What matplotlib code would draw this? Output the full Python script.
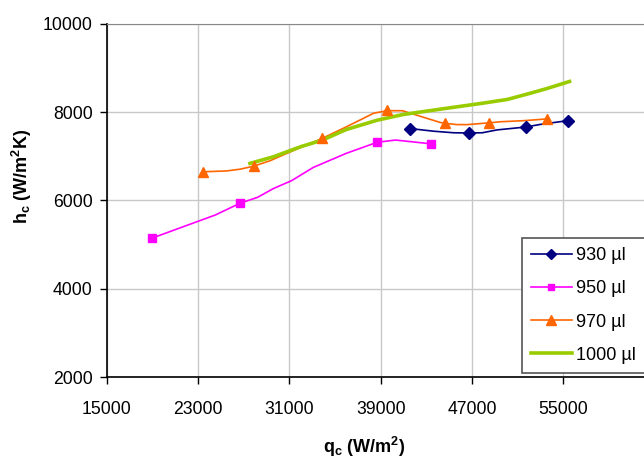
import numpy as np
import matplotlib
matplotlib.use("Agg")
import matplotlib.pyplot as plt
from matplotlib.lines import Line2D

plt.rcParams.update({
    "font.family": ["Liberation Sans", "DejaVu Sans"],
    "mathtext.fontset": "custom",
    "mathtext.rm": "Liberation Sans",
    "mathtext.bf": "Liberation Sans:bold",
    "font.size": 12.7,
})

# 930 ul: line and markers
q930_line = [41600, 43650, 45400, 46700, 47900, 49200, 51700, 53000, 55400]
h930_line = [7630, 7570, 7535, 7530, 7535, 7600, 7665, 7725, 7810]
q930_mark = [41600, 46700, 51700, 55400]
h930_mark = [7630, 7530, 7665, 7810]

# 950 ul
q950_line = [19000, 24500, 26700, 28200, 29600, 31200, 33100, 36000, 38700,
             40300, 43400]
h950_line = [5150, 5670, 5940, 6070, 6270, 6450, 6750, 7070, 7320, 7370, 7285]
q950_mark = [19000, 26700, 38700, 43400]
h950_mark = [5150, 5940, 7320, 7285]

# 970 ul
q970_line = [23400, 25500, 26700, 27900, 29300, 30800, 33900, 36000, 38400,
             39600, 40900, 44200, 44600, 45700, 46600, 48500, 49500, 51600,
             53600]
h970_line = [6650, 6670, 6710, 6780, 6900, 7070, 7410, 7670, 7980, 8035,
             8035, 7770, 7750, 7720, 7720, 7760, 7785, 7810, 7850]
q970_mark = [23400, 27900, 33900, 39600, 44600, 48500, 53600]
h970_mark = [6650, 6780, 7410, 8040, 7750, 7760, 7850]

# 1000 ul
q1000 = [27400, 29600, 32000, 33900, 36000, 38700, 41000, 44500, 47800,
         50100, 52100, 53600, 55700]
h1000 = [6830, 6990, 7220, 7370, 7610, 7820, 7950, 8080, 8200, 8290, 8430,
         8540, 8710]

xticks = [15000, 23000, 31000, 39000, 47000, 55000]
yticks = [2000, 4000, 6000, 8000, 10000]
labels = ["930 µl", "950 µl", "970 µl", "1000 µl"]

fig = plt.figure(figsize=(6.44, 4.61), dpi=100)
W, H = 644, 461
x0, x1, y0, y1 = 106.7, 654.6, 377, 24
ax = fig.add_axes([x0 / W, (H - y0) / H, (x1 - x0) / W, (y0 - y1) / H])

ax.plot(q930_line, h930_line, color="#000080", lw=1.2)
ax.plot(q950_line, h950_line, color="#ff00ff", lw=1.2)
ax.plot(q970_line, h970_line, color="#ff6600", lw=1.2)
ax.plot(q1000, h1000, color="#99cc00", lw=2.6, solid_capstyle="butt")
ax.plot(q930_mark, h930_mark, "D", color="#000080", ms=6.3, ls="none")
ax.plot(q950_mark, h950_mark, "s", color="#ff00ff", ms=6, ls="none")
ax.plot(q970_mark, h970_mark, "^", color="#ff6600", ms=7.5, ls="none")

ax.set_xlim(15000, 63000)
ax.set_ylim(2000, 10000)
ax.set_xticks(xticks)
ax.set_yticks(yticks)
ax.grid(True, color="#c8c8c8", lw=1)
ax.set_axisbelow(True)
ax.tick_params(axis="x", direction="out", length=5, pad=12, width=1)
ax.tick_params(axis="y", direction="out", length=5, pad=5, width=1)
ax.spines["right"].set_visible(False)
ax.spines["top"].set_color("#888888")
ax.spines["left"].set_linewidth(1.2)
ax.spines["bottom"].set_linewidth(1.2)

handles = [
    Line2D([], [], color="#000080", lw=1.2, marker="D", ms=5),
    Line2D([], [], color="#ff00ff", lw=1.2, marker="s", ms=5),
    Line2D([], [], color="#ff6600", lw=1.2, marker="^", ms=6.5),
    Line2D([], [], color="#99cc00", lw=2.6),
]
leg = fig.legend(handles, labels, loc="upper left",
                 bbox_to_anchor=(521.7 / W, 1 - 238 / H), fontsize=13,
                 frameon=True, fancybox=False, edgecolor="#555555",
                 handlelength=2.3, handletextpad=0.2, labelspacing=0.9,
                 borderpad=0.5, borderaxespad=0, framealpha=1)
leg.get_frame().set_linewidth(1.2)

fig.text(364 / W, 1 - 447 / H, r"q$_\mathbf{c}$ (W/m$^\mathbf{2}$)",
         ha="center", va="center", fontsize=13, fontweight="bold")
fig.text(22 / W, 1 - 176 / H, r"h$_\mathbf{c}$ (W/m$^\mathbf{2}$K)",
         ha="center", va="center", rotation=90, fontsize=13,
         fontweight="bold")

fig.savefig("out.png", dpi=100, facecolor="white")
